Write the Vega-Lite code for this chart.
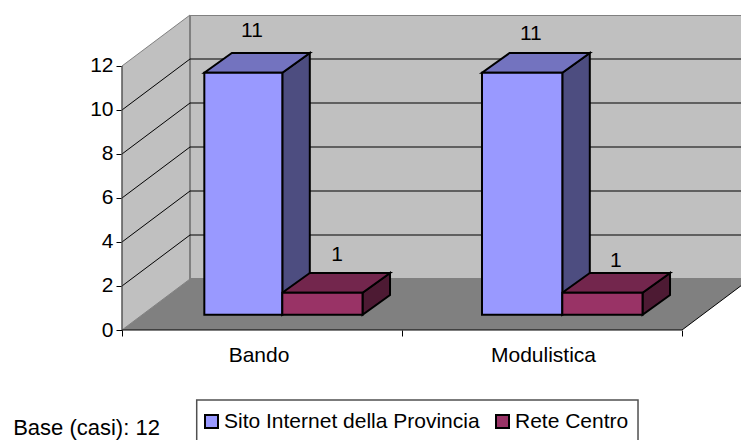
{
  "$schema": "https://vega.github.io/schema/vega-lite/v6.json",
  "width": 619,
  "height": 315,
  "autosize": "none",
  "padding": {"left": 122, "top": 15, "right": 0, "bottom": 110},
  "background": "white",
  "config": {"view": {"stroke": null}, "text": {"font": "Liberation Sans"}},
  "datasets": {
    "sideWall": [
      {"x": 0, "y": 0, "y2": 12},
      {"x": 0.2429, "y": 2.318, "y2": 14.318}
    ],
    "backWall": [
      {"x": 0.2429, "y": 2.318, "y2": 14.318},
      {"x": 2.2429, "y": 2.318, "y2": 14.318}
    ],
    "floor": [
      {"x": 0, "x2": 2, "y": 0},
      {"x": 0.2429, "x2": 2.2429, "y": 2.318}
    ],
    "gridSide": [
      {"level": 2, "x": 0, "y": 2}, {"level": 2, "x": 0.2429, "y": 4.318},
      {"level": 4, "x": 0, "y": 4}, {"level": 4, "x": 0.2429, "y": 6.318},
      {"level": 6, "x": 0, "y": 6}, {"level": 6, "x": 0.2429, "y": 8.318},
      {"level": 8, "x": 0, "y": 8}, {"level": 8, "x": 0.2429, "y": 10.318},
      {"level": 10, "x": 0, "y": 10}, {"level": 10, "x": 0.2429, "y": 12.318}
    ],
    "gridBack": [
      {"x": 0.2429, "x2": 2.2429, "y": 4.318},
      {"x": 0.2429, "x2": 2.2429, "y": 6.318},
      {"x": 0.2429, "x2": 2.2429, "y": 8.318},
      {"x": 0.2429, "x2": 2.2429, "y": 10.318},
      {"x": 0.2429, "x2": 2.2429, "y": 12.318}
    ],
    "bars": [
      {"category": "Bando", "series": "Sito Internet della Provincia", "value": 11, "x": 0.294, "x2": 0.5725},
      {"category": "Bando", "series": "Rete Centro", "value": 1, "x": 0.5725, "x2": 0.859},
      {"category": "Modulistica", "series": "Sito Internet della Provincia", "value": 11, "x": 1.2857, "x2": 1.5725},
      {"category": "Modulistica", "series": "Rete Centro", "value": 1, "x": 1.5725, "x2": 1.859}
    ],
    "sidesBlue": [
      {"bar": "Bando", "x": 0.5725, "y": 11.695, "y2": 0.695},
      {"bar": "Bando", "x": 0.6707, "y": 12.59, "y2": 1.59},
      {"bar": "Modulistica", "x": 1.5725, "y": 11.695, "y2": 0.695},
      {"bar": "Modulistica", "x": 1.6707, "y": 12.59, "y2": 1.59}
    ],
    "sidesRed": [
      {"bar": "Bando", "x": 0.859, "y": 1.695, "y2": 0.695},
      {"bar": "Bando", "x": 0.9572, "y": 2.59, "y2": 1.59},
      {"bar": "Modulistica", "x": 1.859, "y": 1.695, "y2": 0.695},
      {"bar": "Modulistica", "x": 1.9572, "y": 2.59, "y2": 1.59}
    ],
    "topsBlue": [
      {"bar": "Bando", "x": 0.294, "x2": 0.5725, "y": 11.695},
      {"bar": "Bando", "x": 0.3922, "x2": 0.6707, "y": 12.59},
      {"bar": "Modulistica", "x": 1.2857, "x2": 1.5725, "y": 11.695},
      {"bar": "Modulistica", "x": 1.3839, "x2": 1.6707, "y": 12.59}
    ],
    "topsRed": [
      {"bar": "Bando", "x": 0.5725, "x2": 0.859, "y": 1.695},
      {"bar": "Bando", "x": 0.6707, "x2": 0.9572, "y": 2.59},
      {"bar": "Modulistica", "x": 1.5725, "x2": 1.859, "y": 1.695},
      {"bar": "Modulistica", "x": 1.6707, "x2": 1.9572, "y": 2.59}
    ],
    "valueLabels": [
      {"label": "11", "x": 0.464, "y": 13.57},
      {"label": "1", "x": 0.768, "y": 3.42},
      {"label": "11", "x": 1.46, "y": 13.46},
      {"label": "1", "x": 1.764, "y": 3.12}
    ],
    "categoryLabels": [
      {"label": "Bando", "x": 0.4893, "y": -1.18},
      {"label": "Modulistica", "x": 1.5054, "y": -1.18}
    ],
    "note": [{"label": "Base (casi): 12", "x": -0.1268, "y": -4.45}],
    "legendBox": [{"x": 0.2668, "x2": 1.8429, "y": -3.18, "y2": -5.3}]
  },
  "encoding": {
    "x": {"field": "x", "type": "quantitative", "title": null,
      "scale": {"domain": [0, 2.2107], "nice": false, "zero": false},
      "axis": {"values": [0, 1, 2], "labels": false, "domain": false, "grid": false, "tickColor": "black", "tickSize": 6, "title": null}},
    "y": {"field": "y", "type": "quantitative", "title": null,
      "scale": {"domain": [0, 14.318], "nice": false, "zero": false},
      "axis": {"values": [0, 2, 4, 6, 8, 10, 12], "domain": false, "grid": false, "tickColor": "black", "tickSize": 6, "labelFont": "Liberation Sans", "labelFontSize": 21, "labelColor": "black", "labelPadding": 3, "title": null}}
  },
  "layer": [
    {"data": {"name": "sideWall"},
      "mark": {"type": "area", "orient": "vertical", "fill": "#C0C0C0", "stroke": "#808080", "strokeWidth": 1},
      "encoding": {"y2": {"field": "y2"}}},
    {"data": {"name": "backWall"},
      "mark": {"type": "area", "orient": "vertical", "fill": "#C0C0C0", "stroke": "#808080", "strokeWidth": 2, "clip": true},
      "encoding": {"y2": {"field": "y2"}}},
    {"data": {"name": "floor"},
      "mark": {"type": "area", "orient": "horizontal", "fill": "#808080", "clip": true},
      "encoding": {"x2": {"field": "x2"}}},
    {"data": {"name": "gridSide"},
      "mark": {"type": "line", "stroke": "black", "strokeWidth": 1},
      "encoding": {"detail": {"field": "level"}}},
    {"data": {"name": "gridBack"},
      "mark": {"type": "rule", "stroke": "black", "strokeWidth": 1, "clip": true},
      "encoding": {"x2": {"field": "x2"}}},
    {"data": {"values": [{"x": 2, "y": 0}, {"x": 2.2429, "y": 2.318}]},
      "mark": {"type": "line", "stroke": "black", "strokeWidth": 1, "clip": true},
      "encoding": {}},
    {"data": {"values": [{"x": 0, "x2": 2, "y": 0}]},
      "mark": {"type": "rule", "stroke": "black", "strokeWidth": 1},
      "encoding": {"x2": {"field": "x2"}}},
    {"data": {"values": [{"x": 0, "y": 0, "y2": 12}]},
      "mark": {"type": "rule", "stroke": "#404040", "strokeWidth": 1},
      "encoding": {"y2": {"field": "y2"}}},
    {"data": {"name": "sidesBlue"},
      "mark": {"type": "area", "orient": "vertical", "fill": "#4D4D80", "stroke": "black", "strokeWidth": 2},
      "encoding": {"y2": {"field": "y2"}, "detail": {"field": "bar"}}},
    {"data": {"name": "topsBlue"},
      "mark": {"type": "area", "orient": "horizontal", "fill": "#7373BF", "stroke": "black", "strokeWidth": 2},
      "encoding": {"x2": {"field": "x2"}, "detail": {"field": "bar"}}},
    {"data": {"name": "sidesRed"},
      "mark": {"type": "area", "orient": "vertical", "fill": "#4D1A33", "stroke": "black", "strokeWidth": 2},
      "encoding": {"y2": {"field": "y2"}, "detail": {"field": "bar"}}},
    {"data": {"name": "topsRed"},
      "mark": {"type": "area", "orient": "horizontal", "fill": "#73264D", "stroke": "black", "strokeWidth": 2},
      "encoding": {"x2": {"field": "x2"}, "detail": {"field": "bar"}}},
    {"data": {"name": "legendBox"},
      "mark": {"type": "rect", "fill": "white", "stroke": "#505050", "strokeWidth": 1.5},
      "encoding": {"x2": {"field": "x2"}, "y2": {"field": "y2"}}},
    {"data": {"name": "bars"},
      "mark": {"type": "rect", "stroke": "black", "strokeWidth": 2, "yOffset": -15.3, "y2Offset": -15.3},
      "encoding": {
        "x2": {"field": "x2"},
        "y": {"field": "value", "type": "quantitative", "title": null,
          "scale": {"domain": [0, 14.318], "nice": false, "zero": false}},
        "y2": {"datum": 0},
        "color": {"field": "series", "type": "nominal",
          "scale": {"domain": ["Sito Internet della Provincia", "Rete Centro"], "range": ["#9999FF", "#993366"]},
          "legend": {"title": null, "orient": "none", "legendX": 79, "legendY": 396, "direction": "horizontal", "columns": 2,
            "symbolType": "square", "symbolSize": 169, "symbolStrokeColor": "black", "symbolStrokeWidth": 2, "symbolOpacity": 1,
            "labelFont": "Liberation Sans", "labelFontSize": 21, "labelColor": "black", "labelLimit": 400,
            "padding": 0, "columnPadding": 12, "labelOffset": 2}}}},
    {"data": {"name": "valueLabels"},
      "mark": {"type": "text", "fontSize": 21, "color": "black", "font": "Liberation Sans"},
      "encoding": {"text": {"field": "label"}}},
    {"data": {"name": "categoryLabels"},
      "mark": {"type": "text", "fontSize": 21, "color": "black", "font": "Liberation Sans"},
      "encoding": {"text": {"field": "label"}}},
    {"data": {"name": "note"},
      "mark": {"type": "text", "fontSize": 22, "color": "black", "font": "Liberation Sans"},
      "encoding": {"text": {"field": "label"}}}
  ]
}
